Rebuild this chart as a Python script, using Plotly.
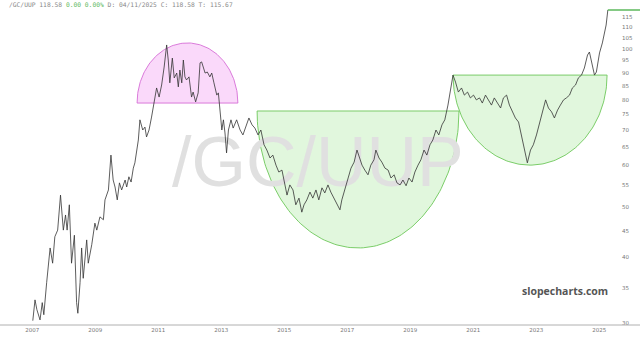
import numpy as np
import pandas as pd
import plotly.graph_objects as go

# ---- data ----
# decimal years
year_frac = [
    2007.02, 2007.09, 2007.15, 2007.25, 2007.32, 2007.37, 2007.46, 2007.57, 2007.65, 2007.72,
    2007.81, 2007.90, 2007.99, 2008.06, 2008.11, 2008.18, 2008.25, 2008.34, 2008.41, 2008.45,
    2008.52, 2008.57, 2008.62, 2008.73, 2008.78, 2008.89, 2008.99, 2009.05, 2009.15, 2009.26,
    2009.31, 2009.42, 2009.50, 2009.57, 2009.63, 2009.70, 2009.77, 2009.84, 2009.95, 2010.00,
    2010.07, 2010.14, 2010.21,
    2010.26, 2010.37, 2010.42, 2010.51, 2010.58, 2010.63, 2010.71, 2010.79, 2010.84, 2010.95,
    2011.03, 2011.11, 2011.19, 2011.27, 2011.32, 2011.37, 2011.45, 2011.51, 2011.59, 2011.64,
    2011.69, 2011.75, 2011.80, 2011.85, 2011.90, 2011.98, 2012.06, 2012.11, 2012.19, 2012.27,
    2012.33, 2012.38, 2012.49, 2012.56, 2012.64, 2012.70, 2012.77, 2012.86, 2012.91, 2012.96,
    2013.02, 2013.07, 2013.12, 2013.17, 2013.23, 2013.31, 2013.38, 2013.49, 2013.60,
    2013.69, 2013.79, 2013.88, 2013.98, 2014.07, 2014.17, 2014.26, 2014.36, 2014.45, 2014.55,
    2014.64, 2014.74, 2014.83, 2014.93, 2015.03, 2015.09, 2015.18, 2015.28, 2015.37, 2015.47,
    2015.56, 2015.63, 2015.72, 2015.82, 2015.91, 2016.01, 2016.10, 2016.20, 2016.29, 2016.39,
    2016.48, 2016.58, 2016.68, 2016.77, 2016.83, 2016.93, 2017.03, 2017.12, 2017.22, 2017.31,
    2017.37, 2017.47, 2017.56, 2017.66, 2017.75, 2017.85, 2017.91, 2018.01, 2018.10, 2018.20,
    2018.30, 2018.39, 2018.49, 2018.58, 2018.68, 2018.77, 2018.87, 2018.96, 2019.06, 2019.15,
    2019.25, 2019.34, 2019.44, 2019.53, 2019.63, 2019.72, 2019.82, 2019.91, 2020.01, 2020.10,
    2020.20, 2020.29, 2020.36, 2020.44, 2020.53, 2020.63, 2020.72, 2020.82, 2020.91, 2021.01,
    2021.10, 2021.20, 2021.29, 2021.39, 2021.48, 2021.58, 2021.67, 2021.77, 2021.87, 2021.96,
    2022.06, 2022.15, 2022.25, 2022.34, 2022.44, 2022.53, 2022.63, 2022.72, 2022.82, 2022.91,
    2023.01, 2023.10, 2023.20, 2023.30, 2023.39, 2023.49, 2023.58, 2023.68, 2023.77, 2023.87,
    2023.96, 2024.06, 2024.15, 2024.25, 2024.34, 2024.44, 2024.53, 2024.63, 2024.69, 2024.79,
    2024.85, 2024.91, 2025.01, 2025.10, 2025.16, 2025.22, 2025.275,
]
price = [
    30.3, 33.2, 31.8, 30.4, 32.8, 31.1, 35.8, 41.7, 39.0, 43.8,
    45.1, 52.6, 45.1, 48.2, 45.1, 50.4, 39.0, 44.1, 32.8, 31.3,
    35.8, 41.7, 36.5, 43.2, 39.0, 42.3, 46.5, 45.1, 47.8, 47.2,
    51.5, 53.8, 62.7, 56.2, 54.5, 51.5, 55.5, 53.8, 56.2, 54.5,
    57.0, 55.7, 59.2,
    60.6, 67.0, 73.2, 70.0, 70.9, 67.9, 70.0, 74.1, 77.5, 84.2,
    80.9, 85.3, 92.3, 101.7, 95.2, 86.1, 96.0, 88.0, 89.9, 84.6,
    91.1, 86.1, 95.2, 88.4, 87.2, 88.4, 80.9, 82.7, 79.2, 82.4,
    94.0, 94.4, 89.9, 90.3, 88.4, 89.9, 86.1, 81.6, 82.4, 75.4,
    70.0, 73.2, 69.1, 63.3, 70.0, 73.2, 70.6, 73.2, 70.0,
    68.5, 71.6, 73.8, 71.6, 70.6, 68.5, 70.0, 65.6, 64.1, 61.9,
    62.7, 60.0, 58.2, 58.7, 55.0, 52.6, 55.0, 53.8, 50.4, 51.9,
    48.8, 50.4, 51.5, 53.3, 51.9, 53.8, 51.5, 54.3, 53.1, 55.0,
    53.3, 51.9, 50.8, 49.3, 51.5, 54.3, 56.7, 59.2, 60.8, 64.1,
    62.7, 60.0, 58.7, 57.5, 60.0, 61.4, 64.1, 61.9, 60.8, 59.2,
    58.7, 56.7, 57.5, 55.5, 55.0, 56.2, 54.8, 56.7, 55.7, 58.2,
    60.0, 61.4, 64.1, 62.7, 65.6, 67.0, 70.0, 68.5, 71.6, 73.2,
    78.1, 83.5, 89.1, 86.4, 82.7, 84.2, 81.6, 82.7, 80.6, 81.6,
    79.9, 80.6, 78.8, 81.6, 79.9, 78.1, 80.6, 78.8, 77.1, 80.6,
    81.6, 78.1, 75.8, 73.8, 72.5, 68.5, 64.1, 60.6, 64.1, 65.6,
    68.5, 71.6, 75.8, 79.9, 77.1, 75.8, 73.8, 76.4, 78.1, 79.9,
    80.6, 81.6, 84.2, 85.3, 88.0, 89.1, 91.9, 97.3, 98.6, 93.1,
    89.1, 90.3, 98.2, 102.6, 107.2, 111.0, 118.58,
]

# drawn arcs: (start year, end year, base price, extreme price)
arc_names = ["dome", "bowl1", "bowl2"]
arc_start = [2010.33, 2014.14, 2020.36]
arc_end = [2013.53, 2020.55, 2025.25]
arc_base = [78.8, 76.1, 89.1]
arc_extreme = [102.6, 41.7, 60.0]

y_ticks = [30, 35, 40, 45, 50, 55, 60, 65, 70, 75, 80, 85, 90, 95, 100, 105, 110, 115]
x_tick_years = [2007, 2009, 2011, 2013, 2015, 2017, 2019, 2021, 2023, 2025]

symbol = "/GC/UUP"
last_price = 118.58
x_range_years = [2005.978, 2025.597]
y_range = [29.73, 123.9]


def to_date(y):
    yr = int(np.floor(y))
    s = pd.Timestamp(yr, 1, 1)
    e = pd.Timestamp(yr + 1, 1, 1)
    return s + (e - s) * (y - yr)


dates = [to_date(v) for v in year_frac]
dates[-1] = pd.Timestamp("2025-04-11")

W, H = 640, 341
ML, MR, MT, MB = 0, 22, 0, 16
PW, PH = W - ML - MR, H - MT - MB

fig = go.Figure()

# arcs (closed, so the flat edge is stroked too)
arc_fill = ["rgba(238,130,238,0.30)", "rgba(120,220,100,0.22)", "rgba(120,220,100,0.22)"]
arc_line = ["rgba(214,110,214,0.9)", "rgba(110,200,90,0.9)", "rgba(110,200,90,0.9)"]
t = np.linspace(0, np.pi, 121)
for i in range(len(arc_names)):
    mid = (arc_start[i] + arc_end[i]) / 2
    half = (arc_end[i] - arc_start[i]) / 2
    lb, le = np.log(arc_base[i]), np.log(arc_extreme[i])
    xs = [to_date(mid + half * np.cos(a)) for a in t]
    ys = list(np.exp(lb + (le - lb) * np.sin(t)))
    xs.append(xs[0])
    ys.append(ys[0])
    fig.add_trace(go.Scatter(x=xs, y=ys, mode="lines", fill="toself",
                             fillcolor=arc_fill[i], line=dict(color=arc_line[i], width=1),
                             hoverinfo="skip", showlegend=False))

# watermark
fig.add_trace(go.Scatter(x=[to_date(2016.07)], y=[59.2], mode="text", text=[symbol],
                         textposition="middle center",
                         textfont=dict(family="Liberation Sans Narrow, Liberation Sans, Arial",
                                       size=70, color="#e0e0e0"),
                         hoverinfo="skip", showlegend=False))

# price line
fig.add_trace(go.Scatter(x=dates, y=price, mode="lines",
                         line=dict(color="#333333", width=0.8),
                         hoverinfo="skip", showlegend=False))

xr = [to_date(x_range_years[0]), to_date(x_range_years[1])]
lr = [np.log10(y_range[0]), np.log10(y_range[1])]


def xpaper(d):
    return (d - xr[0]) / (xr[1] - xr[0])


def ypaper(v):
    return (np.log10(v) - lr[0]) / (lr[1] - lr[0])


shapes = [
    dict(type="line", xref="paper", yref="paper", x0=0, x1=W / PW, y0=0, y1=0,
         line=dict(color="#b0b0b0", width=1)),
    dict(type="line", xref="paper", yref="paper", x0=xpaper(dates[-1]), x1=W / PW,
         y0=ypaper(last_price), y1=ypaper(last_price),
         line=dict(color="#5cb85c", width=1.5)),
]

header = ("%s %.2f <span style='color:#5cb85c'>0.00 0.00%%</span> D: 04/11/2025 C: %.2f T: 115.67"
          % (symbol, last_price, last_price))

fig.update_layout(
    width=W, height=H,
    margin=dict(l=ML, r=MR, t=MT, b=MB),
    paper_bgcolor="white", plot_bgcolor="white",
    showlegend=False, hovermode=False,
    xaxis=dict(type="date", range=xr, showgrid=False, zeroline=False, showline=False,
               tickvals=[pd.Timestamp(y, 1, 1) for y in x_tick_years],
               ticktext=[str(y) for y in x_tick_years], ticks="",
               tickfont=dict(family="DejaVu Sans", size=5.5, color="#777777")),
    yaxis=dict(type="log", range=lr, side="right", showgrid=False, zeroline=False,
               showline=False, tickvals=y_ticks, ticktext=[str(v) for v in y_ticks],
               ticks="", ticklabelstandoff=3,
               tickfont=dict(family="DejaVu Sans", size=5.5, color="#777777")),
    shapes=shapes,
    annotations=[
        dict(xref="paper", yref="paper", x=7 / PW, y=1 - 5 / PH, xanchor="left",
             yanchor="middle", text=header, showarrow=False,
             font=dict(family="DejaVu Sans Mono", size=6.3, color="#888888")),
        dict(xref="paper", yref="paper", x=565 / PW, y=(PH - 291) / PH, xanchor="center",
             yanchor="middle", text="<b>slopecharts.com</b>", showarrow=False,
             font=dict(family="Open Sans, Liberation Sans", size=10.5, color="#555555")),
    ],
)

fig.write_html("out.html")
